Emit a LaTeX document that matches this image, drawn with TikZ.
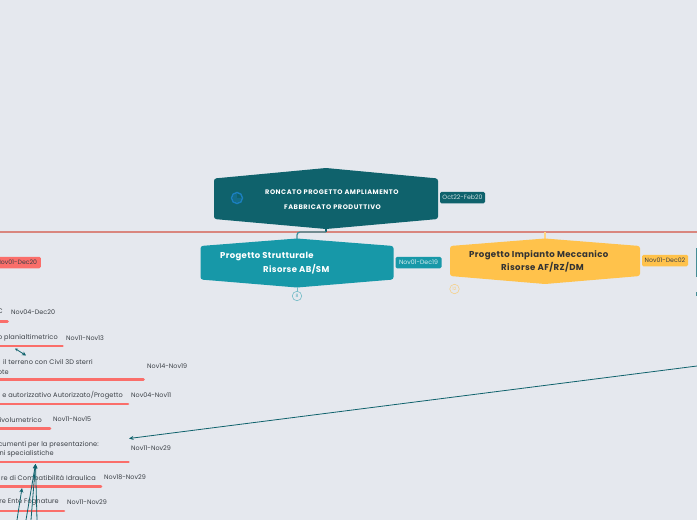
\documentclass[tikz,border=0pt]{standalone}
\usepackage{fontspec}
\setmainfont{Poppins}
\usetikzlibrary{arrows.meta}
\definecolor{bgc}{HTML}{E5E8EE}
\definecolor{tealdark}{HTML}{0F626C}
\definecolor{tealmid}{HTML}{1798A8}
\definecolor{sunny}{HTML}{FFC24B}
\definecolor{coral}{HTML}{FA6E6A}
\definecolor{rule}{HTML}{D9867E}
\definecolor{ink}{HTML}{3A3F45}
\definecolor{ringblue}{HTML}{1B7FBF}
\newfontfamily\titlefont[LetterSpace=8,BoldFont={Poppins Bold}]{Poppins}
\newfontfamily\headfont[LetterSpace=4,BoldFont={Poppins Bold}]{Poppins}
\newfontfamily\itemfont[LetterSpace=1.5]{Poppins}
\newfontfamily\datefont{Poppins}
\tikzset{
  hexa/.style={rounded corners=2.5pt,draw=none},
  title/.style={font=\fontsize{6.6}{7}\titlefont\bfseries,text=white,inner sep=0pt,anchor=west},
  headw/.style={font=\fontsize{8.5}{9}\headfont\bfseries,text=white,inner sep=0pt,anchor=west},
  heady/.style={font=\fontsize{8.6}{9}\headfont\bfseries,text=black!80,inner sep=0pt,anchor=west},
  tag/.style={font=\fontsize{6.2}{7}\datefont,inner sep=0pt,anchor=center,rounded corners=1.5pt,minimum height=11.5pt},
  item/.style={font=\fontsize{6.6}{7}\itemfont,text=ink,inner sep=0pt,anchor=east},
  itemdate/.style={font=\fontsize{6.4}{7}\datefont,text=ink,inner sep=0pt,anchor=west},
  under/.style={draw=coral,line width=2.6pt,line cap=round},
  count/.style={circle,draw,line width=.6pt,fill=bgc,minimum size=9.5pt,inner sep=0pt,font=\fontsize{4.5}{5}\selectfont},
  linkarrow/.style={draw=tealdark,line width=.8pt,-{Stealth[length=4.5pt,width=4pt]}},
}
\begin{document}
\begin{tikzpicture}[x=1pt,y=-1pt]
\useasboundingbox (0,0) rectangle (697,520);
\clip (0,0) rectangle (697,520);
\fill[bgc] (0,0) rectangle (697,520);

% named anchor points
\coordinate (mainbot) at (326,228);
\coordinate (ruleL) at (0,232);
\coordinate (ruleR) at (697,232);
\coordinate (structtop) at (297,239);
\coordinate (structbot) at (297,287);
\coordinate (mecctop) at (545,239);
\coordinate (meccbot) at (454.5,284);

% horizontal rule and connectors
\draw[rule,line width=1.6pt] (ruleL) -- (ruleR);
\draw[tealdark,line width=1.6pt] (mainbot) -- (326,232);
\draw[tealmid!65!gray,line width=1.3pt,rounded corners=3pt] (326,232) -- (297,232) -- (structtop);
\draw[sunny!70!white,line width=1.3pt] (545,232) -- (mecctop);

% main shapes
\fill[tealdark,hexa] (214,178.5) -- (326,168) -- (438,178.5) -- (438,219) -- (326,229) -- (214,219) -- cycle;
\fill[tealmid,hexa] (200.5,246) -- (297,238.5) -- (393.5,246) -- (393.5,279.5) -- (297,287.5) -- (200.5,279.5) -- cycle;
\fill[sunny,hexa] (450,246) -- (545,238.5) -- (640,246) -- (640,276) -- (545,284) -- (450,276) -- cycle;
\fill[tealmid!55!gray] (696,248) rectangle (697,277);
\fill[tealmid!55!gray] (696,292) rectangle (697,296);

% progress icon
\fill[ringblue!35!tealdark] (237,198) circle (4.5);
\fill[tealdark] (237,198) rectangle (243,192);
\draw[ringblue,line width=1.4pt] (237,198) circle (5.5);

% texts in shapes
\node[title] (t1) at (265,192) {RONCATO PROGETTO AMPLIAMENTO};
\node[title] (t2) at (284,207) {FABBRICATO PRODUTTIVO};
\node[headw] (s1) at (220,257) {Progetto Strutturale};
\node[headw] (s2) at (263,269) {Risorse AB/SM};
\node[heady] (m1) at (469,255) {Progetto Impianto Meccanico};
\node[heady] (m2) at (501,267) {Risorse AF/RZ/DM};

% date tags
\node[tag,fill=tealdark,text=white!80!tealdark,minimum width=45pt] (d0) at (462.5,197.5) {Oct22-Feb20};
\node[tag,fill=tealmid,text=white!85!tealmid,minimum width=46pt] (d1) at (418.5,262.5) {Nov01-Dec19};
\node[tag,fill=sunny,text=ink,minimum width=46pt] (d2) at (665,260.5) {Nov01-Dec02};
\node[tag,fill=coral,text=ink,anchor=east,minimum width=48pt] (d3) at (41,262.5) {Nov01-Dec20};

% counters
\draw[tealmid!55!bgc,line width=.8pt] (structbot) -- (297,292);
\draw[sunny!60!bgc,line width=.8pt] (meccbot) -- (454.5,285);
\node[count,draw=tealmid!55!bgc,text=tealmid!70!bgc] (c1) at (297,296) {8};
\node[count,draw=sunny!60!bgc,text=sunny!70!bgc] (c2) at (454.5,289) {12};

% list on the left
\node[item] (i1) at (3,311.5) {C};
\node[itemdate] (e1) at (11,312) {Nov04-Dec20};
\draw[under] (-5,321.5) -- (7.5,321.5);

\node[item] (i2) at (58,338) {o planialtimetrico};
\node[itemdate] (e2) at (66,338) {Nov11-Nov13};
\draw[under] (-5,346) -- (62.5,346);

\node[item] (i3) at (93,362) {il terreno con Civil 3D sterri};
\node[item] (i3b) at (9,372) {ote};
\node[itemdate] (e3) at (147,366) {Nov14-Nov19};
\draw[under] (-5,379.5) -- (143.5,379.5);

\node[item] (i4) at (123,395) {e autorizzativo Autorizzato/Progetto};
\node[itemdate] (e4) at (131,395) {Nov04-Nov11};
\draw[under] (-5,404) -- (128,404);

\node[item] (i5) at (42,420.5) {ivolumetrico};
\node[itemdate] (e5) at (53,419.5) {Nov11-Nov15};
\draw[under] (-5,428.5) -- (50,428.5);

\node[item] (i6) at (99,444.5) {cumenti per la presentazione:};
\node[item] (i6b) at (54,454) {ni specialistiche};
\node[itemdate] (e6) at (131,448) {Nov11-Nov29};
\draw[under] (-5,462) -- (128.5,462);

\node[item] (i7) at (96,478.5) {re di Compatibilità Idraulica};
\node[itemdate] (e7) at (104,477.5) {Nov18-Nov29};
\draw[under] (-5,486.5) -- (101,486.5);

\node[item] (i8) at (59,502.5) {re Ente Fognature};
\node[itemdate] (e8) at (67,502) {Nov11-Nov29};
\draw[under] (-5,511) -- (64,511);

% arrows
\coordinate (srcR) at (697,366);
\coordinate (tgt6) at (129,438.5);
\coordinate (lk1a) at (15,348.5);
\coordinate (lk1b) at (26,355.5);
\coordinate (tgtA) at (22,488);
\coordinate (tgtB) at (35.5,464);
\coordinate (srcA) at (17,520);
\coordinate (srcB) at (26,520);
\coordinate (srcC) at (31,520);
\coordinate (srcD) at (37,520);
\draw[linkarrow] (srcR) -- (tgt6);
\draw[draw=tealdark,line width=.8pt,{Stealth[length=3pt,width=3pt]}-{Stealth[length=4pt,width=4pt]}] (lk1a) -- (lk1b);
\draw[linkarrow] (srcA) -- (tgtA);
\draw[linkarrow] (srcB) -- (tgtB);
\draw[linkarrow] (srcC) -- (tgtB);
\draw[linkarrow] (srcD) -- (tgtB);
\end{tikzpicture}
\end{document}
